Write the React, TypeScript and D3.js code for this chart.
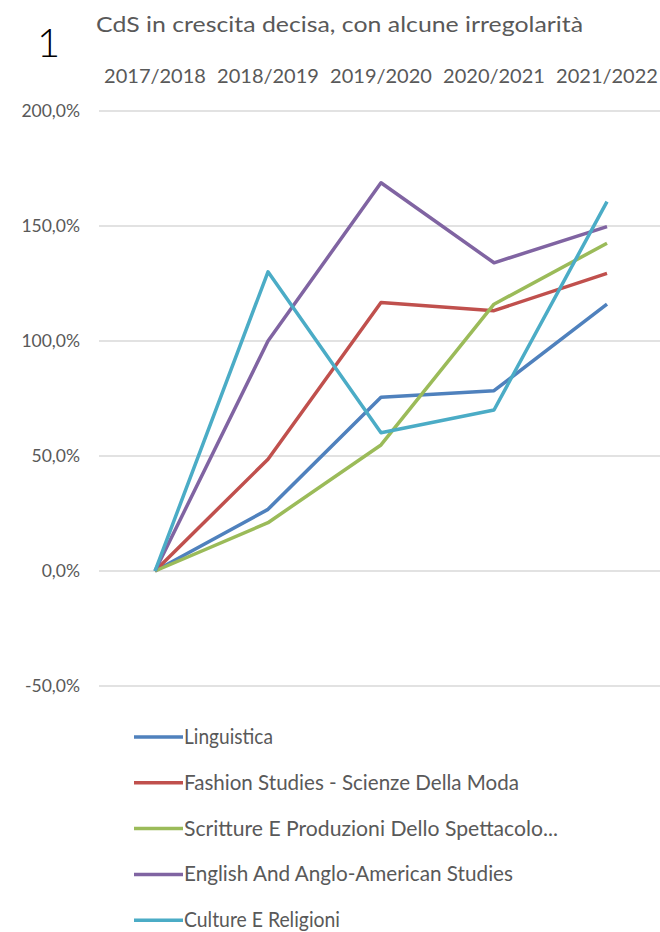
import React from "react";
import * as d3 from "d3";

const categories = ["2017/2018", "2018/2019", "2019/2020", "2020/2021", "2021/2022"];
const seriesNames = [
  "Linguistica",
  "Fashion Studies - Scienze Della Moda",
  "Scritture E Produzioni Dello Spettacolo...",
  "English And Anglo-American Studies",
  "Culture E Religioni",
];
const linguistica = [0, 26.8, 75.5, 78.4, 116];
const fashion = [0, 48.6, 116.7, 113.2, 129.4];
const scritture = [0, 21, 54.8, 116, 142.5];
const english = [0, 100, 168.8, 134, 149.7];
const culture = [0, 130.1, 60.1, 70, 160.6];
const yTicks = [200, 150, 100, 50, 0, -50];
const colors = ["#4F81BD", "#C0504D", "#9BBB59", "#8064A2", "#4BACC6"];
const legendWidths = [89, 335, 374, 329, 156];

const seriesValues = [linguistica, fashion, scritture, english, culture];

export default function App() {
  const x = d3.scalePoint<string>().domain(categories).range([155, 607]);
  const y = d3.scaleLinear().domain([-50, 200]).range([686, 111]);
  const line = d3
    .line<number>()
    .x((_, i) => x(categories[i]) as number)
    .y((d) => y(d));
  const fmt = (v: number) => v.toFixed(1).replace(".", ",") + "%";
  const font = "Lato, 'Open Sans', sans-serif";
  const textColor = "#595959";
  return (
    <svg
      width={660}
      height={932}
      style={{ position: "absolute", left: 0, top: 0, background: "#fff" }}
      fontFamily={font}
    >
      <rect width={660} height={932} fill="#fff" />
      <text x={37} y={57} fontSize={40} fontWeight={300} fill="#000">1</text>
      <text x={96} y={32} fontSize={22} fill={textColor} textLength={487} lengthAdjust="spacingAndGlyphs">
        CdS in crescita decisa, con alcune irregolarità
      </text>
      {categories.map((c) => (
        <text key={c} x={x(c)} y={83} fontSize={20} fill={textColor} textAnchor="middle">
          {c}
        </text>
      ))}
      {yTicks.map((t) => (
        <g key={t}>
          <line x1={99} x2={660} y1={y(t)} y2={y(t)} stroke="#D9D9D9" strokeWidth={1.5} />
          <text x={80} y={y(t) + 6} fontSize={17.5} fill={textColor} textAnchor="end">
            {fmt(t)}
          </text>
        </g>
      ))}
      {seriesValues.map((vals, i) => (
        <path
          key={i}
          d={line(vals) || ""}
          fill="none"
          stroke={colors[i]}
          strokeWidth={3.5}
          strokeLinejoin="round"
        />
      ))}
      {seriesNames.map((n, i) => {
        const ly = 737 + i * 45.8;
        return (
          <g key={n}>
            <line x1={134} x2={183} y1={ly} y2={ly} stroke={colors[i]} strokeWidth={3.5} />
            <text
              x={184}
              y={ly + 7}
              fontSize={20.5}
              fill={textColor}
              textLength={legendWidths[i]}
              lengthAdjust="spacingAndGlyphs"
            >
              {n}
            </text>
          </g>
        );
      })}
    </svg>
  );
}
